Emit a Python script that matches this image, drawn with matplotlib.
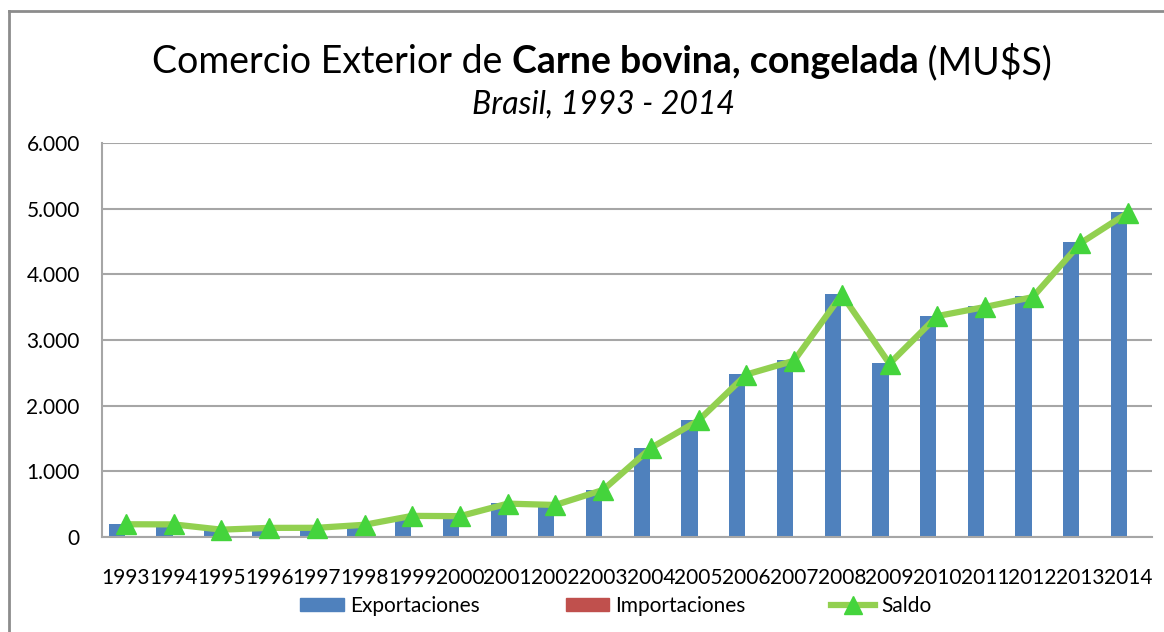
import numpy as np
import matplotlib.pyplot as plt
from matplotlib.lines import Line2D
from matplotlib.patches import Patch
from matplotlib.ticker import FuncFormatter

years = [str(y) for y in range(1993, 2015)]
exportaciones = [198, 195, 130, 145, 145, 190, 325, 320, 512, 492, 722, 1362,
                 1782, 2480, 2692, 3700, 2645, 3372, 3517, 3668, 4490, 4955]
importaciones = [4, 3, 18, 6, 5, 4, 3, 3, 4, 4, 5, 6,
                 6, 6, 7, 8, 6, 8, 14, 15, 16, 14]
saldo = [194, 192, 112, 139, 140, 186, 322, 317, 508, 488, 717, 1356,
         1776, 2474, 2685, 3692, 2639, 3364, 3503, 3653, 4474, 4941]

FONT = 'Lato'
plt.rcParams['font.family'] = [FONT, 'DejaVu Sans']

fig = plt.figure(figsize=(11.64, 6.32), dpi=100)
ax = fig.add_axes([102 / 1164, 1 - 537 / 632, (1152 - 102) / 1164, (537 - 143) / 632])

x = np.arange(len(years))
w = 0.34
ax.bar(x - 0.19, exportaciones, w, color='#4F81BD', zorder=2)
ax.bar(x + 0.21, importaciones, w, color='#C0504D', zorder=2)
ax.plot(x, saldo, color='#92D050', lw=4.5, marker='^', ms=15,
        markerfacecolor='#44D43C', markeredgecolor='#44D43C', zorder=3, clip_on=False)

ax.set_xlim(-0.5, len(years) - 0.5)
ax.set_ylim(0, 6000)
ax.set_yticks(range(0, 6001, 1000))
ax.yaxis.set_major_formatter(FuncFormatter(lambda v, p: f"{int(v):,}".replace(',', '.')))
ax.set_xticks(x)
ax.set_xticklabels(years)
ax.tick_params(axis='both', length=0, labelsize=15, colors='black')
ax.tick_params(axis='y', pad=16)
ax.tick_params(axis='x', pad=22)
ax.grid(axis='y', color='#A6A6A6', lw=1.5, zorder=0)
for s in ['top', 'right']:
    ax.spines[s].set_visible(False)
for s in ['left', 'bottom']:
    ax.spines[s].set_color('#A6A6A6')
    ax.spines[s].set_linewidth(1.5)

# title built from pieces (normal + bold + normal)
pieces = [("Comercio Exterior de ", 'normal'), ("Carne bovina, congelada", 'bold'), (" (MU$S)", 'normal')]
fig.canvas.draw()
r = fig.canvas.get_renderer()
texts = []
for s, wt in pieces:
    t = fig.text(0, 1 - 62 / 632, s, fontsize=27, fontweight=wt, va='center', ha='left')
    texts.append(t)
widths = [t.get_window_extent(r).width for t in texts]
x0 = 602 - sum(widths) / 2
for t, wd in zip(texts, widths):
    t.set_x(x0 / 1164)
    x0 += wd
fig.text(603 / 1164, 1 - 105 / 632, "Brasil, 1993 - 2014", fontsize=23, style='italic',
         ha='center', va='center')

# outer frame
fig.add_artist(Line2D([9 / 1164, 1], [1 - 11 / 632] * 2, color='#8C8C8C', lw=2))
fig.add_artist(Line2D([9 / 1164] * 2, [0, 1 - 11 / 632], color='#8C8C8C', lw=2))

handles = [Patch(color='#4F81BD'), Patch(color='#C0504D'),
           Line2D([], [], color='#92D050', lw=4.5, marker='^', ms=13,
                  markerfacecolor='#44D43C', markeredgecolor='#44D43C')]
fig.legend(handles, ['Exportaciones', 'Importaciones', 'Saldo'], ncol=3,
           loc='center', bbox_to_anchor=(616 / 1164, 1 - 606 / 632), frameon=False,
           fontsize=15, handlelength=2.1, handleheight=0.6, handletextpad=0.3,
           columnspacing=4.1)

fig.savefig('out.png', dpi=100)
